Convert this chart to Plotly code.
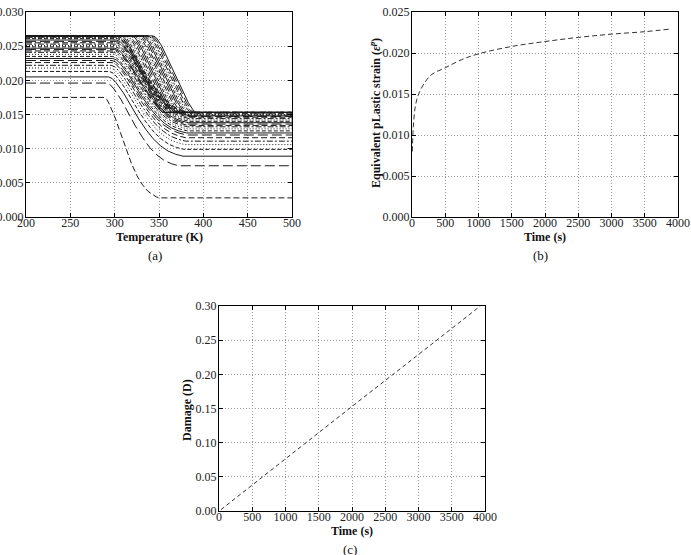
import plotly.graph_objects as go

# ---------------- data: panel (a) ----------------
# group A: curves still below saturation (initial value, final value, onset T, end T)
a_v0 = [0.0175, 0.0196, 0.0205, 0.0213, 0.0218, 0.0222, 0.0226, 0.0229, 0.0232, 0.0235,
        0.0238, 0.0241, 0.0243, 0.0245, 0.0247, 0.0249, 0.0251, 0.0253, 0.0255, 0.0257,
        0.0259, 0.0261, 0.0262, 0.0263, 0.0264]
a_v1 = [0.0028, 0.0075, 0.0089, 0.0099, 0.0106, 0.0111, 0.0116, 0.0120, 0.0123, 0.0126,
        0.0129, 0.0132, 0.0134, 0.0136, 0.0138, 0.0140, 0.0142, 0.0144, 0.0146, 0.0147,
        0.0148, 0.0149, 0.0150, 0.0151, 0.0152]
a_ton = [288, 291, 293, 294, 295, 296, 297, 297, 298, 298, 299, 299, 300, 300, 300,
         301, 301, 301, 302, 302, 302, 303, 303, 303, 304]
a_tend = [350, 372, 377, 378, 379, 380, 380, 381, 381, 382, 382, 382, 383, 383, 383,
          384, 384, 384, 384, 385, 385, 385, 385, 386, 386]
# group B: saturated curves
b_v0 = [0.0265] * 20
b_v1 = [0.0153] * 20
b_ton = [305, 307, 309, 311, 313, 315, 317, 319, 321, 323,
         325, 327, 329, 331, 333, 335, 337, 339, 341, 343]
b_tend = [355, 357, 359, 361, 363, 365, 367, 369, 371, 373,
          375, 377, 379, 381, 383, 385, 387, 389, 391, 393]

# transition shapes (fraction of span, fraction of drop)
prof_t = [0, 0.05, 0.1, 0.2, 0.3, 0.4, 0.5, 0.6, 0.7, 0.8, 0.9, 0.95, 1]
prof_a = [0, 0.02, 0.07, 0.20, 0.36, 0.52, 0.66, 0.78, 0.87, 0.935, 0.975, 0.99, 1]
prof_b = [0, 0.01, 0.04, 0.13, 0.25, 0.37, 0.50, 0.63, 0.75, 0.87, 0.96, 0.99, 1]

# ---------------- data: panel (b) ----------------
t_b = [5, 20, 50, 100, 200, 300, 500, 750, 1000, 1500, 2000, 2500, 3000, 3500, 3860]
eps_b = [0.0080, 0.0110, 0.0135, 0.0150, 0.0165, 0.0174, 0.0182, 0.0192, 0.0199, 0.0208,
         0.0214, 0.0219, 0.0223, 0.0226, 0.0229]

# ---------------- data: panel (c) ----------------
t_c = [30, 1000, 2000, 3000, 3930]
dmg_c = [0.002, 0.077, 0.153, 0.229, 0.300]

FONT = "Liberation Serif"
dashes = ["6px,3px", "10px,4px", "solid", "4px,2px", "1px,2px", "6px,2px,2px,2px"]

fig = go.Figure()

def curve(v0, v1, ton, tend, prof):
    xs = [200]
    ys = [v0]
    for t, f in zip(prof_t, prof):
        xs.append(ton + t * (tend - ton))
        ys.append(v0 - f * (v0 - v1))
    xs.append(500)
    ys.append(v1)
    return xs, ys

k = 0
for v0, v1, ton, tend in zip(a_v0, a_v1, a_ton, a_tend):
    xs, ys = curve(v0, v1, ton, tend, prof_a)
    fig.add_trace(go.Scatter(x=xs, y=ys, mode="lines", xaxis="x", yaxis="y",
                             line=dict(color="#1a1a1a", width=1, dash=dashes[k % len(dashes)])))
    k += 1
for v0, v1, ton, tend in zip(b_v0, b_v1, b_ton, b_tend):
    xs, ys = curve(v0, v1, ton, tend, prof_b)
    fig.add_trace(go.Scatter(x=xs, y=ys, mode="lines", xaxis="x", yaxis="y",
                             line=dict(color="#1a1a1a", width=1, dash=dashes[k % len(dashes)])))
    k += 1

fig.add_trace(go.Scatter(x=t_b, y=eps_b, mode="lines", xaxis="x2", yaxis="y2",
                         line=dict(color="#333", width=1, dash="5px,3px"), line_shape="spline"))
fig.add_trace(go.Scatter(x=t_c, y=dmg_c, mode="lines", xaxis="x3", yaxis="y3",
                         line=dict(color="#333", width=1, dash="4px,3px")))

W, H = 691, 555

def ax(domain, rng, dtick, fmt=None, anchor=None, standoff=0):
    d = dict(domain=domain, range=rng, dtick=dtick, tick0=rng[0], showline=True, linecolor="black",
             linewidth=1, mirror="ticks", ticks="inside", ticklen=4, tickcolor="black",
             showgrid=True, gridcolor="#999", griddash="1px,2px", gridwidth=1, zeroline=False,
             tickfont=dict(family=FONT, size=12, color="#222"), automargin=False,
             anchor=anchor, ticklabelstandoff=standoff)
    if fmt:
        d["tickformat"] = fmt
    return d

def px_x(p):
    return p / W

def px_y(p):
    return 1 - p / H

fig.update_layout(
    width=W, height=H, margin=dict(l=0, r=0, t=0, b=0),
    paper_bgcolor="white", plot_bgcolor="white", showlegend=False,
    xaxis=ax([px_x(26), px_x(292)], [200, 500], 50, anchor="y", standoff=-5),
    yaxis=ax([px_y(217), px_y(12)], [0, 0.030], 0.005, ".3f", anchor="x", standoff=-1),
    xaxis2=ax([px_x(412), px_x(678)], [0, 4000], 500, anchor="y2", standoff=-5),
    yaxis2=ax([px_y(217), px_y(12)], [0, 0.025], 0.005, ".3f", anchor="x2", standoff=-1),
    xaxis3=ax([px_x(219), px_x(485)], [0, 4000], 500, anchor="y3", standoff=-5),
    yaxis3=ax([px_y(511), px_y(306)], [0, 0.30], 0.05, ".2f", anchor="x3", standoff=-1),
)

def note(text, x, y, size=12, bold=True, angle=0):
    fig.add_annotation(text=f"<b>{text}</b>" if bold else text, x=px_x(x), y=px_y(y),
                       xref="paper", yref="paper", showarrow=False, textangle=angle,
                       xanchor="center", yanchor="middle",
                       font=dict(family=FONT, size=size, color="#111"))

note("Temperature (K)", 159, 237)
note("Time (s)", 545, 237)
note("Time (s)", 352, 531)
note("Equivalent pLastic strain (<i>ε</i><sup><i>p</i></sup>)", 375, 113, angle=-90)
note("Damage (D)", 187, 410, angle=-90)
note("(a)", 155, 256, size=13, bold=False)
note("(b)", 540, 256, size=13, bold=False)
note("(c)", 350, 549, size=13, bold=False)

fig.write_html("out.html")
